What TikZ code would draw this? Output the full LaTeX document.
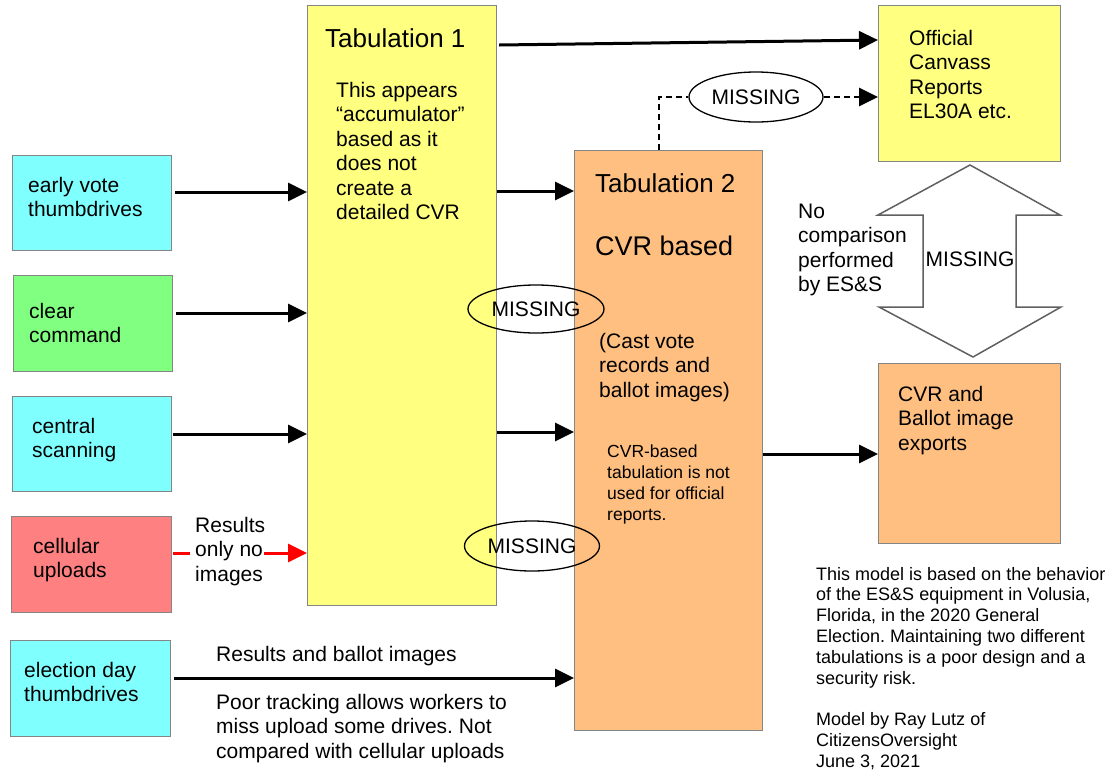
\documentclass[tikz,border=0pt]{standalone}
\usepackage{fontspec}
\setmainfont{Liberation Sans}
\usetikzlibrary{arrows.meta,shapes.geometric}
\definecolor{cyanbox}{HTML}{80FFFF}
\definecolor{greenbox}{HTML}{80FF80}
\definecolor{redbox}{HTML}{FF8080}
\definecolor{yellowbox}{HTML}{FFFF80}
\definecolor{orangebox}{HTML}{FFBF80}
\definecolor{boxline}{HTML}{858585}
\definecolor{hollowline}{HTML}{606060}
\newcommand\mylines[1]{\begin{tabular}[t]{@{}l@{}}#1\end{tabular}}
\frenchspacing
\begin{document}
\begin{tikzpicture}[x=1pt,y=-1pt,
  box/.style={draw=boxline, line width=1.2pt, anchor=north west, inner sep=0pt},
  txt/.style={anchor=base west, inner sep=0pt, font=\fontsize{21}{24.5}\selectfont},
  smalltxt/.style={anchor=base west, inner sep=0pt, font=\fontsize{17.5}{21}\selectfont},
  notetxt/.style={anchor=base west, inner sep=0pt, font=\fontsize{18}{20.8}\selectfont},
  titletxt/.style={anchor=base west, inner sep=0pt, font=\fontsize{26}{30}\selectfont},
  miss/.style={ellipse, draw=black, line width=1.3pt, inner sep=0pt, font=\fontsize{21}{24.5}\selectfont},
  arr/.style={line width=3pt, -{Triangle[length=19pt,width=18pt]}},
  redarr/.style={draw=red, line width=3pt},
  dsh/.style={line width=2.8pt, dash pattern=on 6pt off 4pt},
  hollow/.style={draw=hollowline, fill=white, line width=1.5pt, line join=miter}
]
\useasboundingbox (0,0) rectangle (1112,772);
\fill[white] (0,0) rectangle (1112,772);

% left boxes
\node[box, fill=cyanbox, minimum width=159pt, minimum height=95pt] (ev) at (12,155) {};
\node[box, fill=greenbox, minimum width=159pt, minimum height=96pt] (cc) at (13,275) {};
\node[box, fill=cyanbox, minimum width=159pt, minimum height=95pt] (cs) at (12,396) {};
\node[box, fill=redbox, minimum width=160pt, minimum height=96pt] (cu) at (11,516) {};
\node[box, fill=cyanbox, minimum width=160pt, minimum height=96pt] (ed) at (10,640) {};

% main boxes
\node[box, fill=yellowbox, minimum width=189pt, minimum height=600pt] (tab1) at (307,5) {};
\node[box, fill=orangebox, minimum width=188pt, minimum height=580pt] (tab2) at (574,150) {};
\node[box, fill=yellowbox, minimum width=182pt, minimum height=156pt] (off) at (878,5) {};
\node[box, fill=orangebox, minimum width=182pt, minimum height=180pt] (exp) at (878,363) {};

% left box texts
\node[txt] (evt) at (28,192) {\mylines{early vote\\thumbdrives}};
\node[txt] (cct) at (29,318) {\mylines{clear\\command}};
\node[txt] (cst) at (32,433) {\mylines{central\\scanning}};
\node[txt] (cut) at (33,553) {\mylines{cellular\\uploads}};
\node[txt] (edt) at (24,677) {\mylines{election day\\thumbdrives}};

% tabulation 1 texts
\node[titletxt] (t1title) at (325,47) {Tabulation 1};
\node[txt] (t1body) at (336,97) {\mylines{This appears\\“accumulator”\\based as it\\does not\\create a\\detailed CVR}};

% tabulation 2 texts
\node[titletxt] (t2title) at (595,192) {Tabulation 2};
\node[anchor=base west, inner sep=0pt, font=\fontsize{27}{31}\selectfont] (t2cvr) at (595,255) {CVR based};
\node[txt] (t2cast) at (599,348) {\mylines{(Cast vote\\records and\\ballot images)}};
\node[smalltxt] (t2note) at (607,457) {\mylines{CVR-based\\tabulation is not\\used for official\\reports.}};

% right texts
\node[txt] (offt) at (909,45) {\mylines{Official\\Canvass\\Reports\\EL30A etc.}};
\node[txt] (nocomp) at (798,218) {\mylines{No\\comparison\\performed\\by ES\&S}};
\node[txt] (expt) at (898,401) {\mylines{CVR and\\Ballot image\\exports}};
\node[notetxt] (note) at (816,580) {\mylines{This model is based on the behavior\\of the ES\&S equipment in Volusia,\\Florida, in the 2020 General\\Election. Maintaining two different\\tabulations is a poor design and a\\security risk.\\ \\Model by Ray Lutz of\\CitizensOversight\\June 3, 2021}};

% connector labels
\node[txt] (resonly) at (195,532) {\mylines{Results\\only no\\images}};
\node[txt] (resball) at (216,661) {Results and ballot images};
\node[txt] (poor) at (216,709) {\mylines{Poor tracking allows workers to\\miss upload some drives. Not\\compared with cellular uploads}};

% hollow double arrow
\draw[hollow] (970,165) -- (1060,215) -- (1016,215) -- (1016,307) -- (1061,307)
  -- (973,357) -- (879,307) -- (923,307) -- (923,215) -- (878,215) -- cycle;
\node[anchor=center, inner sep=0pt, font=\fontsize{21}{24.5}\selectfont] (dblmiss) at (970,259) {MISSING};

% arrows into tabulation 1
\draw[arr] ([xshift=3pt,yshift=-37pt]ev.north east) -- ([yshift=-187pt]tab1.north west);
\draw[arr] ([xshift=3pt,yshift=-38pt]cc.north east) -- ([yshift=-308pt]tab1.north west);
\draw[arr] ([xshift=1pt,yshift=-38pt]cs.north east) -- ([yshift=-429pt]tab1.north west);

% cellular red connector
\coordinate (redmid1) at (190,553);
\coordinate (redmid2) at (264,553);
\draw[redarr] ([xshift=1pt,yshift=-37pt]cu.north east) -- (redmid1);
\draw[redarr, -{Triangle[length=19pt,width=18pt]}] (redmid2) -- ([yshift=-548pt]tab1.north west);

% election day to tabulation 2
\draw[arr] ([xshift=3pt,yshift=-38pt]ed.north east) -- ([yshift=-528pt]tab2.north west);

% tabulation 1 outputs
\draw[arr] ([xshift=2pt,yshift=-40pt]tab1.north east) -- ([yshift=-35pt]off.north west);
\draw[arr] ([yshift=-186pt]tab1.north east) -- ([yshift=-41pt]tab2.north west);
\draw[arr] ([yshift=-427pt]tab1.north east) -- ([yshift=-282pt]tab2.north west);

% tabulation 2 to exports
\draw[arr] ([yshift=-304pt]tab2.north east) -- ([yshift=-91pt]exp.north west);

% missing ellipses
\node[miss, minimum width=136pt, minimum height=48pt] (mis1) at (536,309) {MISSING};
\node[miss, minimum width=135pt, minimum height=50pt] (mis2) at (532,546) {MISSING};
\node[miss, minimum width=134pt, minimum height=50pt] (mis3) at (756,97) {MISSING};

% dashed missing link
\draw[dsh] ([xshift=85pt]tab2.north west) |- (mis3.west);
\draw[dsh, -{Triangle[length=19pt,width=18pt]}] (mis3.east) -- (off.west |- mis3.east);
\end{tikzpicture}
\end{document}
